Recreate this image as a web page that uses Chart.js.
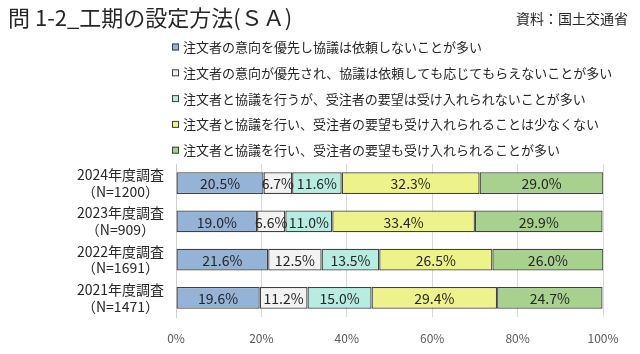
<!DOCTYPE html>
<html>
<head>
<meta charset="utf-8">
<script src="https://cdn.jsdelivr.net/npm/chart.js@4"></script>
<style>
  html, body { margin: 0; padding: 0; background: #fff; }
  #wrap { width: 640px; height: 354px; }
</style>
</head>
<body>
<div id="wrap"><canvas id="myChart"></canvas></div>
<script>
// data
const categories = [
  ["2024年度調査", "（N=1200）"],
  ["2023年度調査", "（N=909）"],
  ["2022年度調査", "（N=1691）"],
  ["2021年度調査", "（N=1471）"]
];
const seriesNames = [
  "注文者の意向を優先し協議は依頼しないことが多い",
  "注文者の意向が優先され、協議は依頼しても応じてもらえないことが多い",
  "注文者と協議を行うが、受注者の要望は受け入れられないことが多い",
  "注文者と協議を行い、受注者の要望も受け入れられることは少なくない",
  "注文者と協議を行い、受注者の要望も受け入れられることが多い"
];
const s1 = [20.5, 19.0, 21.6, 19.6];
const s2 = [6.7, 6.6, 12.5, 11.2];
const s3 = [11.6, 11.0, 13.5, 15.0];
const s4 = [32.3, 33.4, 26.5, 29.4];
const s5 = [29.0, 29.9, 26.0, 24.7];
const xTicks = [0, 20, 40, 60, 80, 100];

const colors = ['#95b3d7', '#f2f2f2', '#b7ece2', '#eef28a', '#a9d18e'];
const FONT = '"Noto Sans CJK JP", "Noto Sans", sans-serif';

// title, source and legend drawn on top
const headerPlugin = {
  id: 'header',
  afterDraw(chart) {
    const c = chart.ctx;
    c.save();
    c.fillStyle = '#262626';
    c.textBaseline = 'middle';
    c.font = '22px ' + FONT;
    c.textAlign = 'left';
    c.fillText('問 1-2_工期の設定方法(ＳＡ)', 8, 18);
    c.font = '14px ' + FONT;
    c.textAlign = 'right';
    c.fillText('資料：国土交通省', 628, 19);

    c.font = '13px ' + FONT;
    c.textAlign = 'left';
    chart.data.datasets.forEach((ds, i) => {
      const y = 47 + i * 25.8;
      c.fillStyle = ds.backgroundColor;
      c.fillRect(172, y - 3.5, 7, 7);
      c.strokeStyle = '#404040';
      c.lineWidth = 1;
      c.strokeRect(172.5, y - 3, 6, 6);
      c.fillStyle = '#262626';
      c.fillText(ds.label, 183, y);
    });
    c.restore();
  }
};

// value labels in the middle of each segment
const valuePlugin = {
  id: 'values',
  afterDatasetsDraw(chart) {
    const c = chart.ctx;
    c.save();
    c.font = '14px ' + FONT;
    c.fillStyle = '#262626';
    c.textAlign = 'center';
    c.textBaseline = 'middle';
    chart.data.datasets.forEach((ds, i) => {
      chart.getDatasetMeta(i).data.forEach((bar, j) => {
        const p = bar.getProps(['x', 'y', 'base'], true);
        c.fillText(ds.data[j].toFixed(1) + '%', (p.x + p.base) / 2, p.y + 1);
      });
    });
    c.restore();
  }
};

const series = [s1, s2, s3, s4, s5];

new Chart(document.getElementById('myChart'), {
  type: 'bar',
  data: {
    labels: categories,
    datasets: series.map((d, i) => ({
      label: seriesNames[i],
      data: d,
      backgroundColor: colors[i],
      borderColor: '#404040',
      borderWidth: 1.3,
      borderSkipped: false,
      barPercentage: 0.575,
      categoryPercentage: 1
    }))
  },
  options: {
    indexAxis: 'y',
    responsive: true,
    maintainAspectRatio: false,
    animation: false,
    layout: { padding: { top: 164, right: 37, left: 0, bottom: 0 } },
    plugins: {
      legend: { display: false },
      tooltip: { enabled: false }
    },
    scales: {
      x: {
        stacked: true,
        min: 0,
        max: 100,
        afterBuildTicks: (scale) => { scale.ticks = xTicks.map(v => ({ value: v })); },
        afterFit: (scale) => { scale.height = 37; },
        border: { display: false },
        grid: { color: '#d9d9d9', drawTicks: false },
        ticks: {
          padding: 14,
          color: '#595959',
          font: { family: FONT, size: 12 },
          callback: (v) => v + '%'
        }
      },
      y: {
        stacked: true,
        afterFit: (scale) => { scale.width = 176; },
        border: { display: true, color: '#d0d0d0' },
        grid: { display: false, drawTicks: false },
        ticks: {
          padding: 12,
          crossAlign: 'center',
          color: '#262626',
          font: { family: FONT, size: 14, lineHeight: 1.2 }
        }
      }
    }
  },
  plugins: [valuePlugin, headerPlugin]
});
</script>
</body>
</html>
